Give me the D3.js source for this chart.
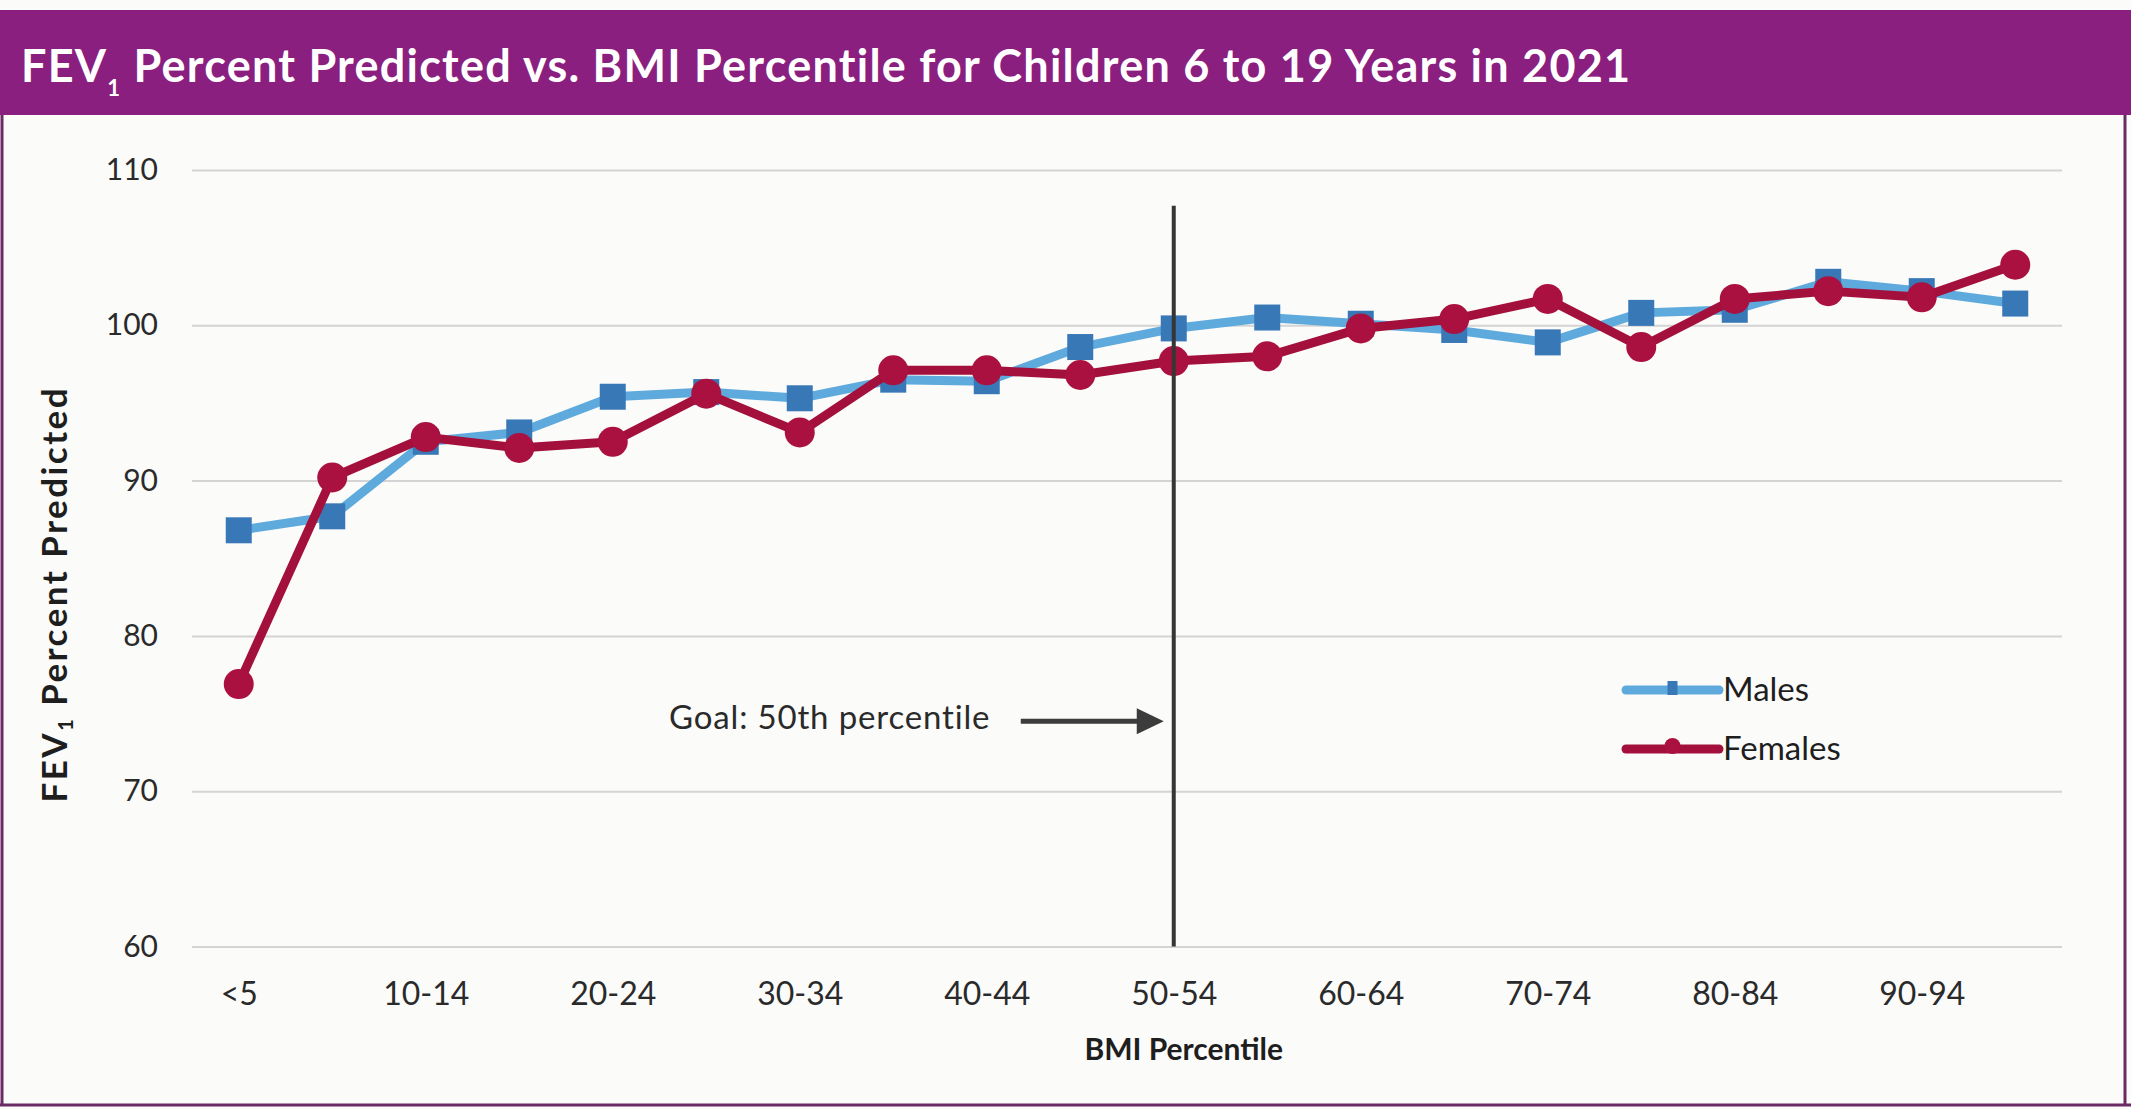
<!DOCTYPE html>
<html>
<head>
<meta charset="utf-8">
<script src="https://cdn.jsdelivr.net/npm/d3@7"></script>
<style>
  html, body { margin: 0; padding: 0; background: #ffffff; overflow: hidden; }
  svg { display: block; }
</style>
</head>
<body>
<svg id="chart" width="2131" height="1109"></svg>
<script>
// BMI percentile bins (x categories)
const categories = ["<5", "5-9", "10-14", "15-19", "20-24", "25-29", "30-34", "35-39", "40-44", "45-49",
                    "50-54", "55-59", "60-64", "65-69", "70-74", "75-79", "80-84", "85-89", "90-94", "95-99"];
// Labelled bins on the x axis
const tickLabels = ["<5", "10-14", "20-24", "30-34", "40-44", "50-54", "60-64", "70-74", "80-84", "90-94"];
// FEV1 percent predicted, by sex
const males   = [86.8, 87.7, 92.5, 93.1, 95.4, 95.7, 95.3, 96.5, 96.4, 98.6,
                 99.8, 100.5, 100.1, 99.7, 98.9, 100.8, 101.0, 102.8, 102.2, 101.4];
const females = [76.9, 90.2, 92.8, 92.1, 92.5, 95.6, 93.1, 97.1, 97.1, 96.8,
                 97.7, 98.0, 99.8, 100.4, 101.7, 98.6, 101.7, 102.2, 101.8, 103.9];
const yTicks = [60, 70, 80, 90, 100, 110];
const seriesNames = ["Males", "Females"];
const goalBin = "50-54";
const goalLabel = "Goal: 50th percentile";

const W = 2131, H = 1109;
const plot = { left: 192, right: 2062, top: 170, bottom: 946.5 };
const FONT = "Lato, 'Open Sans', 'DejaVu Sans', sans-serif";

const svg = d3.select("#chart");

// page background and frame
svg.append("rect").attr("width", W).attr("height", H).attr("fill", "#fbfbfa");
svg.append("rect").attr("x", 0).attr("y", 10).attr("width", W).attr("height", 105).attr("fill", "#8b1f7f");
const frame = svg.append("g").attr("stroke", "#6a2a64").attr("fill", "none");
frame.append("line").attr("x1", 2).attr("x2", 2).attr("y1", 115).attr("y2", 1106).attr("stroke-width", 3);
frame.append("line").attr("x1", 2125).attr("x2", 2125).attr("y1", 115).attr("y2", 1106).attr("stroke-width", 3);
frame.append("line").attr("x1", 0).attr("x2", W).attr("y1", 1105).attr("y2", 1105).attr("stroke-width", 3);

// adjust letter-spacing so a text run spans the given width
function spread(sel, target) {
  const node = sel.node();
  const w = node.getComputedTextLength();
  const n = node.textContent.length;
  if (n > 1) sel.attr("letter-spacing", ((target - w) / (n - 1)).toFixed(3));
}

// title
const title = svg.append("text")
  .attr("x", 21).attr("y", 82)
  .attr("font-family", FONT).attr("font-weight", 700).attr("font-size", 45)
  .attr("fill", "#ffffff");
title.append("tspan").text("FEV");
title.append("tspan").attr("font-size", 22).attr("dy", 14).text("1");
title.append("tspan").attr("dy", -14).text(" Percent Predicted vs. BMI Percentile for Children 6 to 19 Years in 2021");
spread(title, 1610);

// scales
const x = d3.scalePoint().domain(categories).range([plot.left, plot.right]).padding(0.5);
const y = d3.scaleLinear().domain([60, 110]).range([plot.bottom, plot.top]);

// y axis with gridlines
svg.append("g")
  .attr("transform", `translate(${plot.left},0)`)
  .call(d3.axisLeft(y).tickValues(yTicks).tickSize(-(plot.right - plot.left)).tickPadding(34))
  .call(g => g.select(".domain").remove())
  .call(g => g.selectAll(".tick line").attr("stroke", "#d4d4d4").attr("stroke-width", 2))
  .call(g => g.selectAll(".tick text")
    .attr("font-family", FONT).attr("font-size", 30).attr("fill", "#2a2a2a"));

// x axis labels
svg.append("g")
  .attr("transform", `translate(0,${plot.bottom})`)
  .call(d3.axisBottom(x).tickValues(tickLabels).tickSize(0).tickPadding(36))
  .call(g => g.select(".domain").remove())
  .call(g => g.selectAll(".tick text")
    .attr("font-family", FONT).attr("font-size", 32).attr("fill", "#2a2a2a"));

// axis titles
const yTitle = svg.append("text")
  .attr("transform", `translate(67,${(plot.top + plot.bottom) / 2 + 36}) rotate(-90)`)
  .attr("text-anchor", "middle")
  .attr("font-family", FONT).attr("font-weight", 700).attr("font-size", 35)
  .attr("fill", "#1e1e1e");
yTitle.append("tspan").text("FEV");
yTitle.append("tspan").attr("font-size", 20).attr("dy", 6).text("1");
yTitle.append("tspan").attr("dy", -6).text(" Percent Predicted");
spread(yTitle, 414);

svg.append("text")
  .attr("x", x(goalBin) + 10).attr("y", 1060)
  .attr("text-anchor", "middle")
  .attr("font-family", FONT).attr("font-weight", 700).attr("font-size", 30)
  .attr("fill", "#1e1e1e")
  .text("BMI Percentile");

// series
const line = d3.line().x((d, i) => x(categories[i])).y(d => y(d));

svg.append("path").datum(males)
  .attr("d", line).attr("fill", "none")
  .attr("stroke", "#5faadd").attr("stroke-width", 9).attr("stroke-linejoin", "round");
const sq = 26;
svg.append("g").selectAll("rect").data(males).join("rect")
  .attr("x", (d, i) => x(categories[i]) - sq / 2)
  .attr("y", d => y(d) - sq / 2)
  .attr("width", sq).attr("height", sq)
  .attr("fill", "#3878b6");

svg.append("path").datum(females)
  .attr("d", line).attr("fill", "none")
  .attr("stroke", "#a3103c").attr("stroke-width", 9).attr("stroke-linejoin", "round");
svg.append("g").selectAll("circle").data(females).join("circle")
  .attr("cx", (d, i) => x(categories[i]))
  .attr("cy", d => y(d))
  .attr("r", 15)
  .attr("fill", "#ab1140");

// goal marker line
svg.append("line")
  .attr("x1", x(goalBin)).attr("x2", x(goalBin))
  .attr("y1", y(107.7)).attr("y2", plot.bottom)
  .attr("stroke", "#363636").attr("stroke-width", 4);

// goal annotation with arrow
const arrowY = y(74.5);
const tipX = x(goalBin) - 10;
svg.append("line")
  .attr("x1", tipX - 143).attr("x2", tipX - 24)
  .attr("y1", arrowY).attr("y2", arrowY)
  .attr("stroke", "#3c3c3c").attr("stroke-width", 5);
svg.append("path")
  .attr("d", `M${tipX},${arrowY} L${tipX - 27},${arrowY - 13} L${tipX - 27},${arrowY + 13} Z`)
  .attr("fill", "#3c3c3c");
const goal = svg.append("text")
  .attr("x", 669).attr("y", arrowY + 8)
  .attr("font-family", FONT).attr("font-size", 33).attr("fill", "#2a2a2a")
  .text(goalLabel);
spread(goal, 321);

// legend
const legend = svg.append("g").attr("font-family", FONT).attr("font-size", 33).attr("fill", "#1e1e1e");
const lx0 = 1626, lx1 = 1719;
const legendRows = [
  { name: seriesNames[0], y: 690, line: "#5faadd", mark: "#3878b6", shape: "square", w: 9 },
  { name: seriesNames[1], y: 749, line: "#a3103c", mark: "#ab1140", shape: "circle", w: 9 }
];
legendRows.forEach(r => {
  legend.append("line").attr("x1", lx0).attr("x2", lx1).attr("y1", r.y).attr("y2", r.y)
    .attr("stroke", r.line).attr("stroke-width", r.w).attr("stroke-linecap", "round");
  const cx = (lx0 + lx1) / 2;
  if (r.shape === "square") {
    legend.append("rect").attr("x", cx - 5).attr("y", r.y - 9).attr("width", 10).attr("height", 14).attr("fill", r.mark);
  } else {
    legend.append("circle").attr("cx", cx).attr("cy", r.y - 3).attr("r", 8).attr("fill", r.mark);
  }
  legend.append("text").attr("x", lx1 + 4).attr("y", r.y + 11).text(r.name);
});
</script>
</body>
</html>
